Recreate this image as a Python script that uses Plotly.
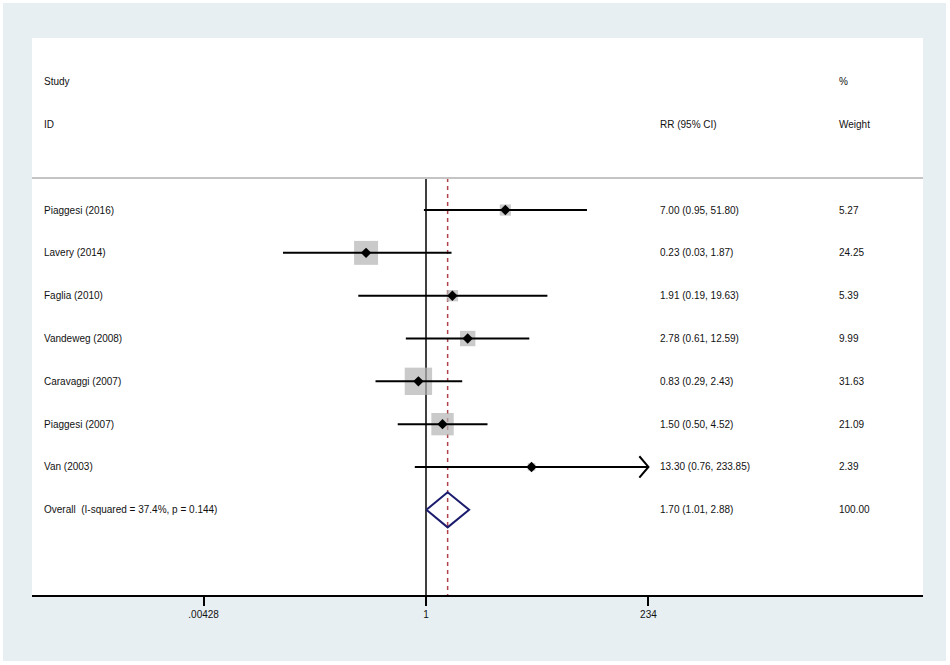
import plotly.graph_objects as go

studies = ["Piaggesi (2016)", "Lavery (2014)", "Faglia (2010)", "Vandeweg (2008)",
           "Caravaggi (2007)", "Piaggesi (2007)", "Van (2003)"]
rr = [7.00, 0.23, 1.91, 2.78, 0.83, 1.50, 13.30]
rr_lo = [0.95, 0.03, 0.19, 0.61, 0.29, 0.50, 0.76]
rr_hi = [51.80, 1.87, 19.63, 12.59, 2.43, 4.52, 233.85]
weight = [5.27, 24.25, 5.39, 9.99, 31.63, 21.09, 2.39]

overall_rr = 1.70
overall_lo = 1.01
overall_hi = 2.88
overall_weight = 100.00
i_squared = 37.4
p_het = 0.144

tick_vals = [0.00428, 1, 234]
tick_text = [".00428", "1", "234"]

FONT = "Liberation Sans, Arial, sans-serif"
rows = list(range(len(studies)))
overall_row = len(studies)
sep_y = -0.75
y_bottom = 8.99

fig = go.Figure()

# null line and overall effect line
fig.add_trace(go.Scatter(x=[1, 1], y=[sep_y, y_bottom], mode="lines",
                         line=dict(color="black", width=1.5), hoverinfo="skip"))
fig.add_trace(go.Scatter(x=[overall_rr, overall_rr], y=[sep_y, y_bottom], mode="lines",
                         line=dict(color="#b0404a", width=1.5, dash="4px,4px"),
                         hoverinfo="skip"))

# weight boxes
fig.add_trace(go.Scatter(
    x=rr, y=rows, mode="markers",
    marker=dict(symbol="square", color="#b3b3b3",
                size=[4.87 * w ** 0.5 for w in weight], line=dict(width=0)),
    hoverinfo="skip"))

# confidence intervals
ci_x, ci_y = [], []
for r, lo, hi in zip(rows, rr_lo, rr_hi):
    ci_x += [lo, hi, None]
    ci_y += [r, r, None]
fig.add_trace(go.Scatter(x=ci_x, y=ci_y, mode="lines",
                         line=dict(color="black", width=2), hoverinfo="skip"))

# arrow heads where the CI reaches the axis limit
for r, hi in zip(rows, rr_hi):
    if hi >= tick_vals[-1] / 1.01:
        fig.add_trace(go.Scatter(x=[hi * 0.80, hi, hi * 0.80], y=[r - 0.25, r, r + 0.25],
                                 mode="lines", line=dict(color="black", width=2),
                                 hoverinfo="skip"))

# point estimates
fig.add_trace(go.Scatter(x=rr, y=rows, mode="markers",
                         marker=dict(symbol="diamond", color="black", size=8),
                         hoverinfo="skip"))

# overall diamond
h = 0.41
fig.add_trace(go.Scatter(
    x=[overall_lo, overall_rr, overall_hi, overall_rr, overall_lo],
    y=[overall_row, overall_row - h, overall_row, overall_row + h, overall_row],
    mode="lines", line=dict(color="#1c1c6e", width=2), hoverinfo="skip"))

# text columns
def txt(x, y, s):
    fig.add_annotation(x=x, y=y, xref="paper", yref="y", text=s, showarrow=False,
                       xanchor="left", yanchor="middle",
                       font=dict(family=FONT, size=10, color="#111111"))

txt(0.0112, -3, "Study")
txt(0.0112, -2, "ID")
txt(0.7026, -2, "RR (95% CI)")
txt(0.9035, -3, "%")
txt(0.9035, -2, "Weight")
for r, s, e, lo, hi, w in zip(rows, studies, rr, rr_lo, rr_hi, weight):
    txt(0.0112, r, s)
    txt(0.7026, r, f"{e:.2f} ({lo:.2f}, {hi:.2f})")
    txt(0.9035, r, f"{w:.2f}")
txt(0.0112, overall_row, f"Overall\u00a0 (I-squared = {i_squared}%, p = {p_het})")
txt(0.7026, overall_row, f"{overall_rr:.2f} ({overall_lo:.2f}, {overall_hi:.2f})")
txt(0.9035, overall_row, f"{overall_weight:.2f}")

fig.update_layout(
    width=950, height=665,
    margin=dict(l=32, r=27, t=38, b=70),
    paper_bgcolor="white", plot_bgcolor="white",
    showlegend=False,
    shapes=[
        dict(type="rect", xref="paper", yref="paper", x0=-0.0326, x1=1.0258,
             y0=-0.1185, y1=1.0628, fillcolor="#e8eff2", line=dict(width=0), layer="below"),
        dict(type="rect", xref="paper", yref="paper", x0=0, x1=1, y0=0, y1=1,
             fillcolor="white", line=dict(width=0), layer="below"),
        dict(type="line", xref="paper", yref="y", x0=0, x1=1, y0=sep_y, y1=sep_y,
             line=dict(color="#c4c4c4", width=2)),
    ],
)
fig.update_xaxes(type="log", range=[-4.196, 5.293], tickvals=tick_vals, ticktext=tick_text,
                 ticks="outside", ticklen=9, tickwidth=1.5, tickcolor="black",
                 showline=True, linecolor="black", linewidth=1.5, showgrid=False,
                 zeroline=False, tickfont=dict(family=FONT, size=10, color="#111111"))
fig.update_yaxes(range=[y_bottom, -4.018], visible=False, showgrid=False, zeroline=False)

fig.write_html("out.html", config={"displayModeBar": False},
               post_script="document.body.style.margin='0';")
